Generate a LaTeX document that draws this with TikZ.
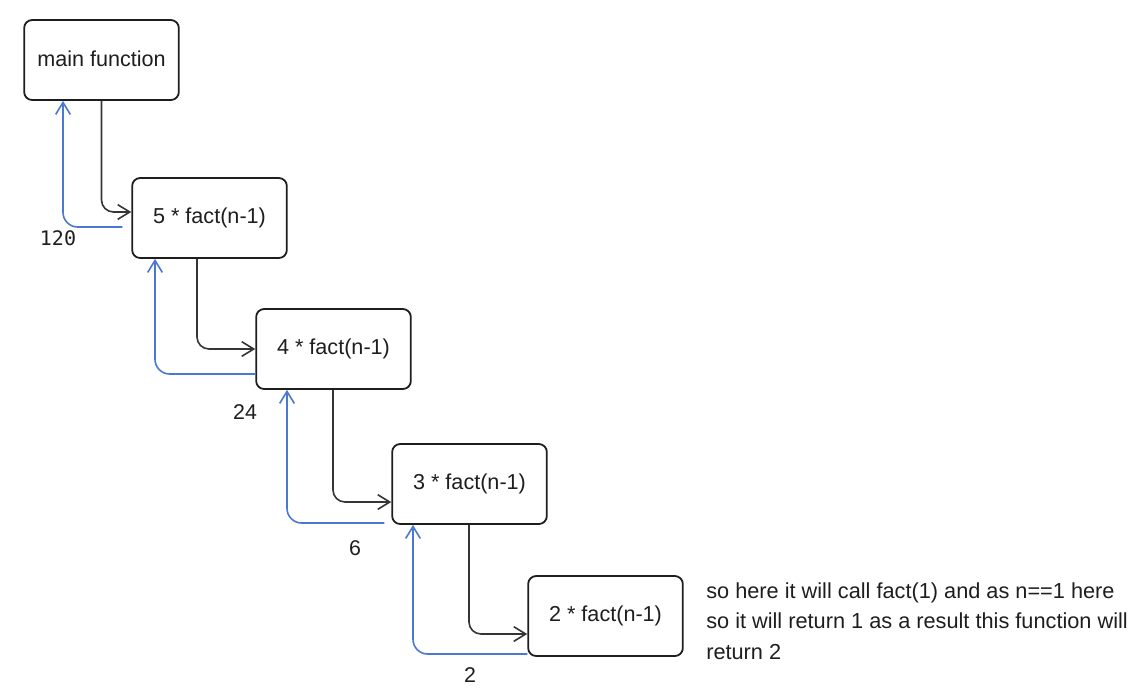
\documentclass[tikz,border=0pt]{standalone}
\usepackage{fontspec}
\setmainfont{Liberation Sans}
\newfontfamily\numfont{DejaVu Sans Mono}
\usetikzlibrary{arrows.meta,calc}
\definecolor{ink}{HTML}{1E1E1E}
\definecolor{retblue}{HTML}{4A78D2}
\begin{document}
\begin{tikzpicture}[x=0.75pt,y=-0.75pt,
  frame/.style={draw=ink,line width=1.35pt,rounded corners=6pt,fill=white,
    minimum width=116pt,minimum height=60pt,inner sep=0pt,
    font=\fontsize{16.2}{19}\selectfont,text=ink},
  callarrow/.style={draw=ink!90,line width=1.2pt,rounded corners=9pt,
    -{Straight Barb[length=9pt,width=11pt,line width=1.2pt]}},
  retarrow/.style={draw=retblue,line width=1.2pt,rounded corners=11pt,
    -{Straight Barb[length=9pt,width=11pt,line width=1.2pt]}},
  val/.style={font=\fontsize{16}{19}\selectfont,text=ink,inner sep=0pt},
]
\useasboundingbox (0,0) rectangle (1137,687);

% call frames
\node[frame] (main) at (101.5,60)  {\raisebox{1.5pt}{main function}};
\node[frame] (b5)   at (209.5,218) {\raisebox{1.5pt}{5 * fact(n-1)}};
\node[frame] (b4)   at (333.5,349) {4 * fact(n-1)};
\node[frame] (b3)   at (469.5,484) {3 * fact(n-1)};
\node[frame] (b2)   at (605.5,616) {2 * fact(n-1)};

% calls going down
\draw[callarrow] (main.south) |- ($(b5.west)+(0,-6)$);
\draw[callarrow] ($(b5.south)+(-12.5,0)$) |- (b4.west);
\draw[callarrow] ($(b4.south)+(-0.5,0)$) |- ($(b3.west)+(0,18)$);
\draw[callarrow] ($(b3.south)+(-0.5,0)$) |- ($(b2.west)+(0,18)$);

% returned values going up
\draw[retarrow] ($(b5.west)+(-9,9)$) -| ($(main.south)+(-38.5,0)$);
\draw[retarrow] ($(b4.west)+(0,25)$) -| ($(b5.south)+(-54.5,0)$);
\draw[retarrow] ($(b3.west)+(-7,39)$) -| ($(b4.south)+(-46.5,0)$);
\draw[retarrow] ($(b2.west)+(0,38)$) -| ($(b3.south)+(-56.5,0)$);

% values
\node[val,font=\numfont\fontsize{15}{18}\selectfont] (v120) at (58,238) {120};
\node[val] (v24) at (245,412) {24};
\node[val] (v6)  at (355,548) {6};
\node[val] (v2)  at (470,675) {2};

% note
\node[anchor=north west,align=left,inner sep=0pt,text=ink,
  font=\fontsize{16.3}{22.9}\selectfont] (note) at (706,582)
  {so here it will call fact(1) and as n==1 here\\
   so it will return 1 as a result this function will\\
   return 2};
\end{tikzpicture}
\end{document}
